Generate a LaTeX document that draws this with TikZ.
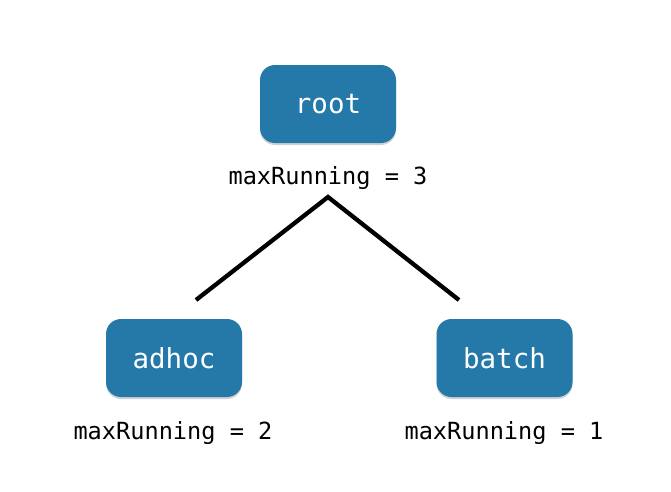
\documentclass[tikz,border=0pt]{standalone}
\usepackage{fontspec}
\setmonofont{DejaVu Sans Mono}
\usetikzlibrary{shadows}
\definecolor{boxblue}{HTML}{2479A9}
\tikzset{
  qbox/.style={draw=none, fill=boxblue, rounded corners=15pt, minimum width=136pt, minimum height=78pt,
    text=white, font=\ttfamily\fontsize{27.5}{30}\selectfont,
    drop shadow={shadow xshift=0pt, shadow yshift=-2pt, opacity=0.18, fill=black}},
  qlabel/.style={font=\ttfamily\fontsize{23.6}{26}\selectfont, text=black, inner sep=0pt},
  branch/.style={line width=4.3pt, black}
}
\begin{document}
\begin{tikzpicture}[x=1pt,y=-1pt]
\useasboundingbox (0,0) rectangle (671,491);
\node[qbox] (root) at (328,104) {root};
\node[qbox] (adhoc) at (174,358) {adhoc};
\node[qbox] (batch) at (504.5,358) {batch};
\node[qlabel] (rootlbl) at (328,178) {maxRunning = 3};
\node[qlabel] (adhoclbl) at (173,433) {maxRunning = 2};
\node[qlabel] (batchlbl) at (504,433) {maxRunning = 1};
\coordinate (apex) at (328,197);
\coordinate (lend) at (196,300);
\coordinate (rend) at (459,300);
\draw[branch] (lend) -- (apex) -- (rend);
\end{tikzpicture}
\end{document}
